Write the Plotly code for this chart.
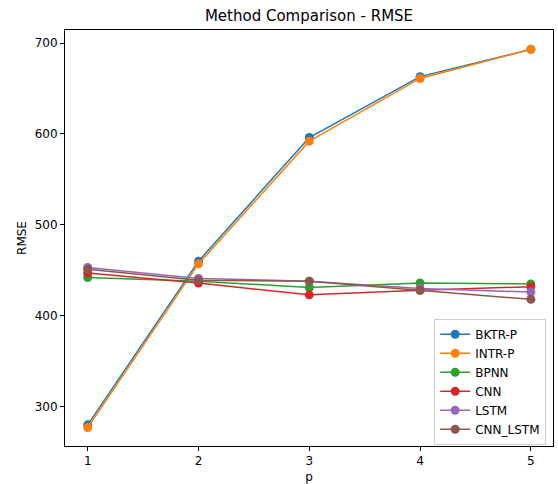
import plotly.graph_objects as go

p = [1, 2, 3, 4, 5]
bktr_p = [280, 460, 596, 663, 693]
intr_p = [277, 457, 592, 661, 693]
bpnn = [442, 438, 431, 436, 435]
cnn = [447, 436, 423, 428, 432]
lstm = [453, 441, 438, 430, 426]
cnn_lstm = [451, 439, 438, 428, 418]

series = [
    ("BKTR-P", bktr_p, "#1f77b4"),
    ("INTR-P", intr_p, "#ff7f0e"),
    ("BPNN", bpnn, "#2ca02c"),
    ("CNN", cnn, "#d62728"),
    ("LSTM", lstm, "#9467bd"),
    ("CNN_LSTM", cnn_lstm, "#8c564b"),
]

fig = go.Figure()
for name, vals, col in series:
    fig.add_trace(go.Scatter(x=p, y=vals, mode="lines+markers", name=name,
                             line=dict(color=col, width=1.5),
                             marker=dict(color=col, size=9)))

axis_common = dict(showgrid=False, zeroline=False, showline=True, linecolor="black",
                   linewidth=1, mirror=True, ticks="outside", ticklen=4,
                   tickcolor="black", tickfont=dict(size=12, color="black"),
                   automargin=False)
fig.update_layout(
    width=558, height=484,
    margin=dict(l=65, r=5, t=30, b=38),
    paper_bgcolor="white", plot_bgcolor="white",
    font=dict(family="DejaVu Sans", color="black"),
    title=dict(text="Method Comparison - RMSE", x=0.5, xref="paper", xanchor="center",
               y=1, yref="container", yanchor="top", pad=dict(t=10),
               font=dict(size=15)),
    xaxis=dict(range=[0.795, 5.2], tickvals=p, title=dict(text="p", font=dict(size=12), standoff=6), **axis_common),
    yaxis=dict(range=[256.7, 714.3], tickvals=[300, 400, 500, 600, 700],
               title=dict(text="RMSE", font=dict(size=12), standoff=5), **axis_common),
    legend=dict(x=0.986, y=0.003, xanchor="right", yanchor="bottom",
                bgcolor="rgba(255,255,255,0.8)", bordercolor="#cccccc", borderwidth=1,
                font=dict(size=12), tracegroupgap=0, itemwidth=30),
    showlegend=True,
)
fig.write_html("out.html")
